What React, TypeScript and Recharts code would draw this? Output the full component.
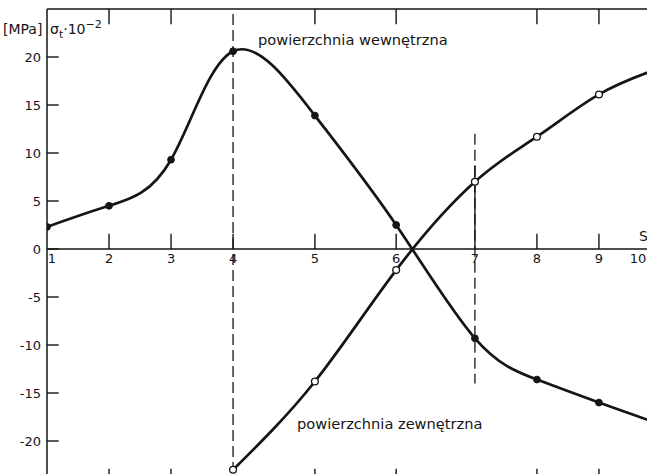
import React from 'react';
import { ComposedChart, Line, XAxis, YAxis, ReferenceLine } from 'recharts';

// measuring points along the wall; the 4–7 band is drawn wider
const stations = [1, 2, 3, 4, 5, 6, 7, 8, 9, 10];
const stationPos = [0, 1, 2, 3, 4.32, 5.63, 6.9, 7.9, 8.9, 9.82];

// tangential stress sigma_t * 10^-2 [MPa]
const innerStress = [2.3, 4.5, 9.3, 20.6, 13.9, 2.5, -9.3, -13.6, -16.0, -18.1];
const outerStress = [null, null, null, -23.0, -13.8, -2.2, 7.0, 11.7, 16.1, 18.7];

const yTicks = [-20, -15, -10, -5, 0, 5, 10, 15, 20];
const edgeTickStations = [2, 3, 5, 6, 8, 9];

const INK = '#151515';
const FONT = 'DejaVu Sans';
const X_MAX = 9.82;
const Y_MIN = -25;
const Y_MAX = 25;

const rows = stations.map((s, i) => ({
  station: s,
  x: stationPos[i],
  inner: innerStress[i],
  outer: outerStress[i],
}));

const posOf = (s: number) => stationPos[stations.indexOf(s)];

// short tick above the zero line at each station (7 gets the longer solid piece)
const midTickLen = (s: number) => (s === 1 ? 0 : s === 7 ? 8.7 : 1.6);
const labelShift = (s: number) => (s === 1 ? 5 : s === 10 ? -18 : 0);

const seg = (x1: number, y1: number, x2: number, y2: number) => [
  { x: x1, y: y1 },
  { x: x2, y: y2 },
];

export default function App() {
  const ax = { xAxisId: 'b', yAxisId: 'v' };
  return (
    <div
      style={{
        position: 'fixed', left: 0, top: 0, width: 647, height: 474,
        overflow: 'hidden', background: '#fff', fontFamily: FONT, color: INK,
      }}
    >
      <ComposedChart width={680} height={500} data={rows} margin={{ top: 9, right: 24, bottom: 11, left: 7 }}>
        <XAxis xAxisId="b" type="number" dataKey="x" domain={[0, X_MAX]} allowDataOverflow hide />
        <YAxis
          yAxisId="v" type="number" domain={[Y_MIN, Y_MAX]} ticks={yTicks} width={40} allowDataOverflow
          tickSize={0} tickMargin={6} tickLine={false}
          axisLine={{ stroke: INK, strokeWidth: 1.5 }}
          tick={{ fill: INK, fontSize: 13, fontFamily: FONT }}
        />

        {/* frame: top edge, inward ticks on the left, top and bottom */}
        <ReferenceLine {...ax} y={Y_MAX} stroke={INK} strokeWidth={1.4} />
        {yTicks.map((v) => (
          <ReferenceLine key={'l' + v} {...ax} segment={seg(0, v, 0.19, v)} stroke={INK} strokeWidth={1.4} />
        ))}
        {edgeTickStations.map((s) => (
          <ReferenceLine key={'t' + s} {...ax} segment={seg(posOf(s), Y_MAX, posOf(s), Y_MAX - 1.6)} stroke={INK} strokeWidth={1.4} />
        ))}
        {edgeTickStations.map((s) => (
          <ReferenceLine key={'d' + s} {...ax} segment={seg(posOf(s), Y_MIN, posOf(s), Y_MIN + 2.1)} stroke={INK} strokeWidth={1.4} />
        ))}

        {/* zero line with its station ticks and labels */}
        <ReferenceLine
          {...ax} y={0} stroke={INK} strokeWidth={1.4}
          label={{ value: 'S', position: 'insideBottomRight', offset: 8, fill: INK, fontSize: 14, fontFamily: FONT }}
        />
        {stations.map((s) => (
          <ReferenceLine
            key={'m' + s}
            {...ax}
            segment={seg(posOf(s), 0, posOf(s), midTickLen(s))}
            stroke={midTickLen(s) ? INK : 'none'} strokeWidth={1.4}
            label={{ value: String(s), position: 'bottom', offset: 5, dx: labelShift(s), fill: INK, fontSize: 13, fontFamily: FONT }}
          />
        ))}

        {/* boundary markers at stations 4 and 7 */}
        <ReferenceLine {...ax} x={posOf(4)} stroke={INK} strokeWidth={1.3} strokeDasharray="11 5" />
        <ReferenceLine {...ax} segment={seg(posOf(7), 12, posOf(7), -14)} stroke={INK} strokeWidth={1.3} strokeDasharray="11 5" />

        <Line
          {...ax} type="natural" dataKey="inner"
          stroke={INK} strokeWidth={2.7}
          dot={{ r: 3.4, fill: INK, stroke: INK, strokeWidth: 1 }}
          isAnimationActive={false}
        />
        <Line
          {...ax} type="natural" dataKey="outer"
          stroke={INK} strokeWidth={2.7}
          dot={{ r: 3.4, fill: '#fff', stroke: INK, strokeWidth: 1.3 }}
          isAnimationActive={false}
        />
      </ComposedChart>

      <div style={{ position: 'absolute', left: 3, top: 21, fontSize: 14, lineHeight: '16px' }}>[MPa]</div>
      <div style={{ position: 'absolute', left: 50, top: 21, fontSize: 14, lineHeight: '16px', whiteSpace: 'nowrap' }}>
        σ<span style={{ fontSize: 11, position: 'relative', top: 4 }}>t</span>·10
        <span style={{ fontSize: 11, position: 'relative', top: -6 }}>−2</span>
      </div>
      <div style={{ position: 'absolute', left: 258, top: 31, fontSize: 14.6, lineHeight: '18px', whiteSpace: 'nowrap' }}>
        powierzchnia wewnętrzna
      </div>
      <div style={{ position: 'absolute', left: 297, top: 415, fontSize: 14.6, lineHeight: '18px', whiteSpace: 'nowrap' }}>
        powierzchnia zewnętrzna
      </div>
    </div>
  );
}
